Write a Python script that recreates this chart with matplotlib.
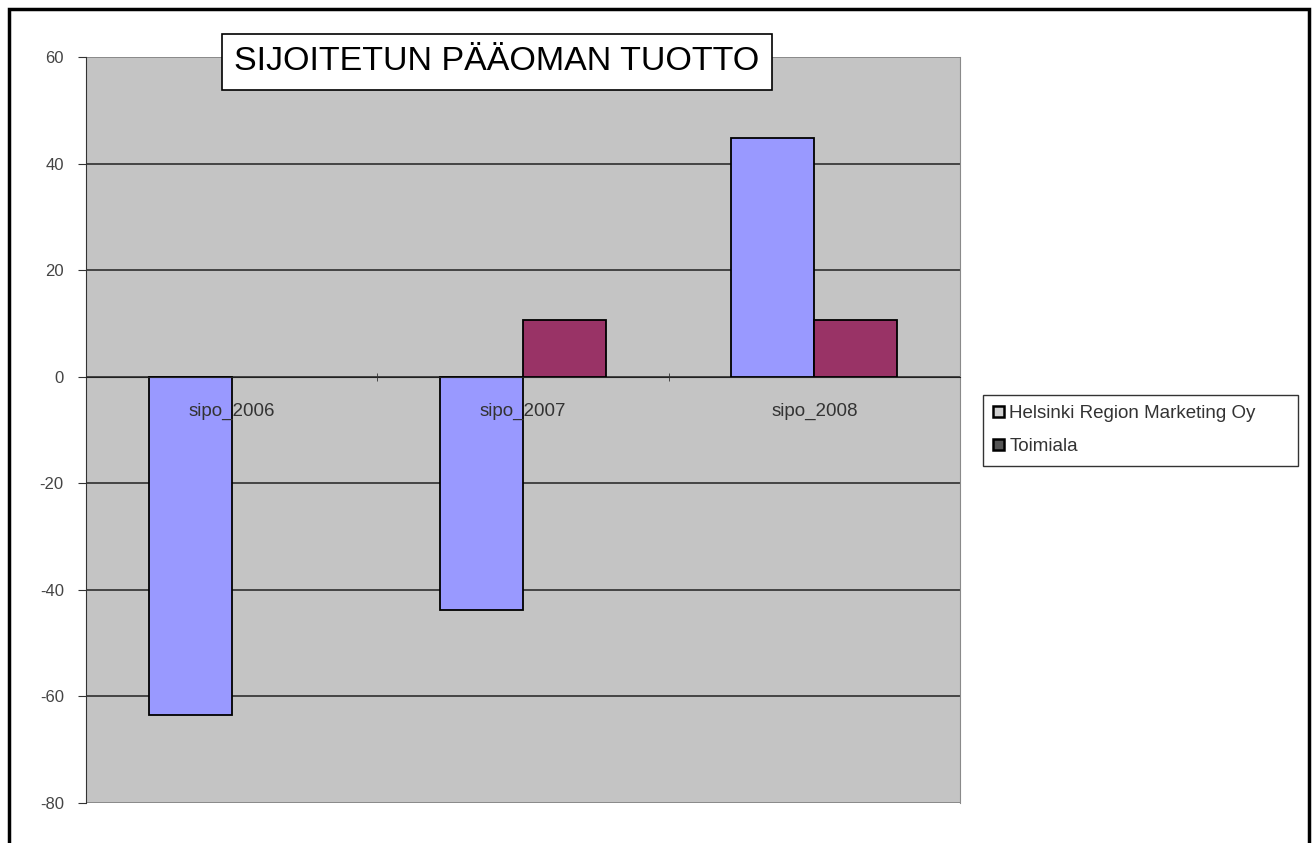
import matplotlib
matplotlib.use("Agg")
import matplotlib.pyplot as plt
from matplotlib.patches import Rectangle, Patch
import numpy as np

plt.rcParams['font.family'] = ['Liberation Sans', 'DejaVu Sans']

categories = ["sipo_2006", "sipo_2007", "sipo_2008"]
series_names = ["Helsinki Region Marketing Oy", "Toimiala"]
helsinki = [-63.5, -43.8, 44.8]
toimiala = [np.nan, 10.6, 10.6]
yticks = [-80, -60, -40, -20, 0, 20, 40, 60]
title = "SIJOITETUN PÄÄOMAN TUOTTO"

W, H = 1312, 843
fig = plt.figure(figsize=(W / 100, H / 100), dpi=100)
fig.patch.set_facecolor('white')

ax = fig.add_axes([86 / W, 1 - 803 / H, (960 - 86) / W, (803 - 57) / H])
ax.set_facecolor('#c4c4c4')

x = np.arange(len(categories))
w = 0.285
ax.bar(x - w / 2, helsinki, w, color='#9999ff', edgecolor='black', linewidth=1.3, zorder=3)
ax.bar(x + w / 2, toimiala, w, color='#993366', edgecolor='black', linewidth=1.3, zorder=3)

ax.set_xlim(-0.5, len(categories) - 0.5)
ax.set_ylim(yticks[0], yticks[-1])
ax.set_yticks(yticks)
ax.set_yticklabels([str(v) for v in yticks], color='#444444', fontsize=12)
for yv in yticks:
    ax.axhline(yv, color='#222222' if yv not in (yticks[0], yticks[-1]) else '#7a7a7a',
               linewidth=1.1, zorder=2)

ax.spines['bottom'].set_position(('data', 0))
ax.spines['bottom'].set_color('#222222')
ax.spines['bottom'].set_zorder(4)
ax.spines['top'].set_visible(False)
ax.spines['right'].set_color('#8a8a8a')
ax.spines['left'].set_color('#333333')
ax.set_xticks(x)
ax.set_xticklabels(categories, color='#333333', fontsize=13.5)
ax.tick_params(axis='x', which='major', length=0, pad=19)
ax.set_xticks(x[:-1] + 0.5, minor=True)
ax.tick_params(axis='x', which='minor', length=6, direction='inout', color='#333333')
ax.tick_params(axis='y', length=6, direction='out', color='#333333', pad=10)
ax.xaxis.set_zorder(5)

fig.text(497 / W, 1 - 62 / H, title, ha='center', va='center', fontsize=24.5,
         color='black',
         bbox=dict(boxstyle='square,pad=0.36', facecolor='white', edgecolor='black', linewidth=1.2))

handles = [Patch(facecolor='#d0d0d0', edgecolor='black', linewidth=1.8, label=series_names[0]),
           Patch(facecolor='#555555', edgecolor='black', linewidth=1.8, label=series_names[1])]
leg = fig.legend(handles=handles, loc='upper left',
                 bbox_to_anchor=(983 / W, 1 - 465 / H, (1298 - 983) / W, (465 - 395) / H),
                 mode='expand', frameon=True, fancybox=False, fontsize=13.5,
                 handlelength=0.55, handleheight=0.55,
                 handletextpad=0.3, borderpad=0.55, labelspacing=0.85, borderaxespad=0)
leg.get_frame().set_edgecolor('black')
leg.get_frame().set_linewidth(1.0)
for t in leg.get_texts():
    t.set_color('#333333')

fig.patches.append(Rectangle((9 / W, -0.2), (1309 - 9) / W, 1.2 - 9 / H,
                             transform=fig.transFigure, fill=False, edgecolor='black',
                             linewidth=2.5, clip_on=False))

fig.savefig('out.png', dpi=100)
